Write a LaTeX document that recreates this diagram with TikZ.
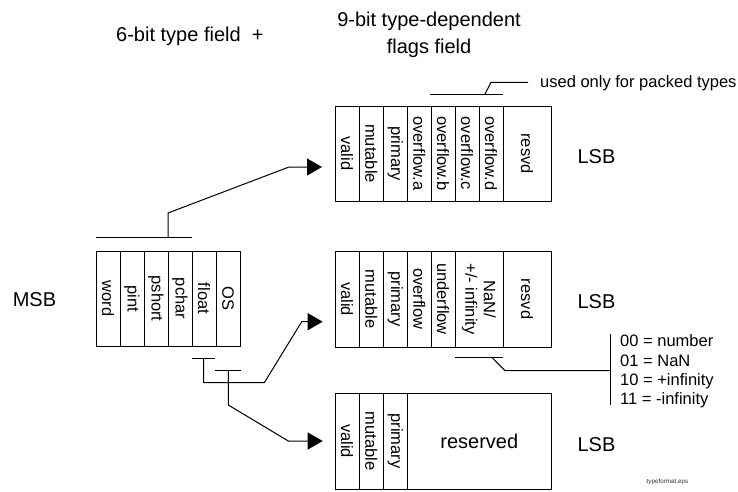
\documentclass[tikz,border=0pt]{standalone}
\usepackage{fontspec}
\setmainfont{Liberation Sans}
\usetikzlibrary{arrows.meta}
\newcommand{\bigfnt}{\fontsize{20}{24}\selectfont}
\newcommand{\colfnt}{\fontsize{16.5}{18.5}\selectfont}
\newcommand{\tinyfnt}{\fontsize{6.3}{7.5}\selectfont}
\tikzset{
  cell/.style={draw, line width=1pt, rotate=-90, inner sep=0pt, outer sep=0pt,
    font=\colfnt, align=center, minimum width=95pt},
  hcell/.style={draw, line width=1pt, inner sep=0pt, outer sep=0pt,
    font=\bigfnt, minimum height=96pt},
  big/.style={font=\bigfnt, inner sep=0pt},
  small/.style={font=\colfnt, inner sep=0pt},
  conn/.style={line width=1pt},
  arr/.style={conn, -{Triangle[length=15pt,width=17pt]}},
}
\begin{document}
\begin{tikzpicture}[x=1pt,y=-1pt]
\useasboundingbox (0,0) rectangle (738,491);

% titles
\node[big, anchor=base west] (t6) at (116,41) {6-bit type field\ \ +};
\node[big, anchor=base] (t9a) at (429,26) {9-bit type-dependent};
\node[big, anchor=base] (t9b) at (429,53) {flags field};

% left (MSB) box
\node[cell, minimum height=24pt] (lw) at (108,298.5) {word};
\node[cell, minimum height=24pt] (lp) at (132,298.5) {pint};
\node[cell, minimum height=24pt] (ls) at (156,298.5) {pshort};
\node[cell, minimum height=24pt] (lc) at (180,298.5) {pchar};
\node[cell, minimum height=24pt] (lf) at (204,298.5) {float};
\node[cell, minimum height=24pt] (lo) at (228,298.5) {OS};
\node[big] (msb) at (34.5,300) {MSB};

% top box
\node[cell, minimum height=24pt] (a1) at (347,153.5) {valid};
\node[cell, minimum height=24.5pt] (a2) at (371.25,153.5) {mutable};
\node[cell, minimum height=24pt] (a3) at (395.5,153.5) {primary};
\node[cell, minimum height=23.5pt] (a4) at (419.25,153.5) {overflow.a};
\node[cell, minimum height=24pt] (a5) at (443,153.5) {overflow.b};
\node[cell, minimum height=24pt] (a6) at (467,153.5) {overflow.c};
\node[cell, minimum height=24pt] (a7) at (491,153.5) {overflow.d};
\node[cell, minimum height=48pt] (a8) at (527,153.5) {resvd};
\node[big] (lsb1) at (596.5,157) {LSB};

% middle box
\node[cell, minimum width=96pt, minimum height=24pt] (b1) at (347,299) {valid};
\node[cell, minimum width=96pt, minimum height=24.5pt] (b2) at (371.25,299) {mutable};
\node[cell, minimum width=96pt, minimum height=24pt] (b3) at (395.5,299) {primary};
\node[cell, minimum width=96pt, minimum height=23.5pt] (b4) at (419.25,299) {overflow};
\node[cell, minimum width=96pt, minimum height=24pt] (b5) at (443,299) {underflow};
\node[cell, minimum width=96pt, minimum height=48pt] (b6) at (479,299) {NaN/\\+/- infinity};
\node[cell, minimum width=96pt, minimum height=48pt] (b7) at (527,299) {resvd};
\node[big] (lsb2) at (596.5,302) {LSB};

% bottom box
\node[cell, minimum width=96pt, minimum height=24pt] (c1) at (347,441) {valid};
\node[cell, minimum width=96pt, minimum height=24.5pt] (c2) at (371.25,441) {mutable};
\node[cell, minimum width=96pt, minimum height=24pt] (c3) at (395.5,441) {primary};
\node[hcell, minimum width=143.5pt] (c4) at (479.25,441) {reserved};
\node[big] (lsb3) at (596.5,444.5) {LSB};

% connector to top box
\coordinate (pa1) at (96,237);
\coordinate (pa2) at (192,237);
\coordinate (pa3) at (168,237);
\coordinate (pa4) at (168,213);
\coordinate (pa5) at (289,167);
\coordinate (pa6) at (322,167);
\draw[conn] (pa1) -- (pa2);
\draw[arr] (pa3) -- (pa4) -- (pa5) -- (pa6);

% connector from float to middle box
\coordinate (pb1) at (192,358.5);
\coordinate (pb2) at (215,358.5);
\coordinate (pb3) at (203.5,358.5);
\coordinate (pb4) at (203.5,382.7);
\coordinate (pb5) at (264.3,382.7);
\coordinate (pb6) at (301.7,321.7);
\coordinate (pb7) at (322.7,321.7);
\draw[conn] (pb1) -- (pb2);
\draw[arr] (pb3) -- (pb4) -- (pb5) -- (pb6) -- (pb7);

% connector from OS to bottom box
\coordinate (pc1) at (215,370.7);
\coordinate (pc2) at (240.5,370.7);
\coordinate (pc3) at (228.3,370.7);
\coordinate (pc4) at (228.3,405);
\coordinate (pc5) at (288.3,441);
\coordinate (pc6) at (322.7,441);
\draw[conn] (pc1) -- (pc2);
\draw[arr] (pc3) -- (pc4) -- (pc5) -- (pc6);

% packed types callout
\coordinate (pd1) at (430,94);
\coordinate (pd2) at (503,94);
\coordinate (pd3) at (485,94);
\coordinate (pd4) at (491,82.3);
\coordinate (pd5) at (528,82.3);
\draw[conn] (pd1) -- (pd2);
\draw[conn] (pd3) -- (pd4) -- (pd5);
\node[small, anchor=west] (pk) at (540,83) {used only for packed types};

% NaN callout
\coordinate (pe1) at (455,357.5);
\coordinate (pe2) at (503,357.5);
\coordinate (pe3) at (492,357.5);
\coordinate (pe4) at (505,370.7);
\coordinate (pe5) at (610.7,370.7);
\coordinate (pe6) at (610.7,334);
\coordinate (pe7) at (610.7,405);
\draw[conn] (pe1) -- (pe2);
\draw[conn] (pe3) -- (pe4) -- (pe5);
\draw[conn] (pe6) -- (pe7);
\node[small, anchor=base west] (n0) at (620,346.7) {00 = number};
\node[small, anchor=base west] (n1) at (620,366) {01 = NaN};
\node[small, anchor=base west] (n2) at (620,385.5) {10 = +infinity};
\node[small, anchor=base west] (n3) at (620,404.5) {11 = -infinity};

\node[font=\tinyfnt, text=black!80, inner sep=0pt] (fn) at (667.5,481.7) {typeformat.eps};
\end{tikzpicture}
\end{document}
